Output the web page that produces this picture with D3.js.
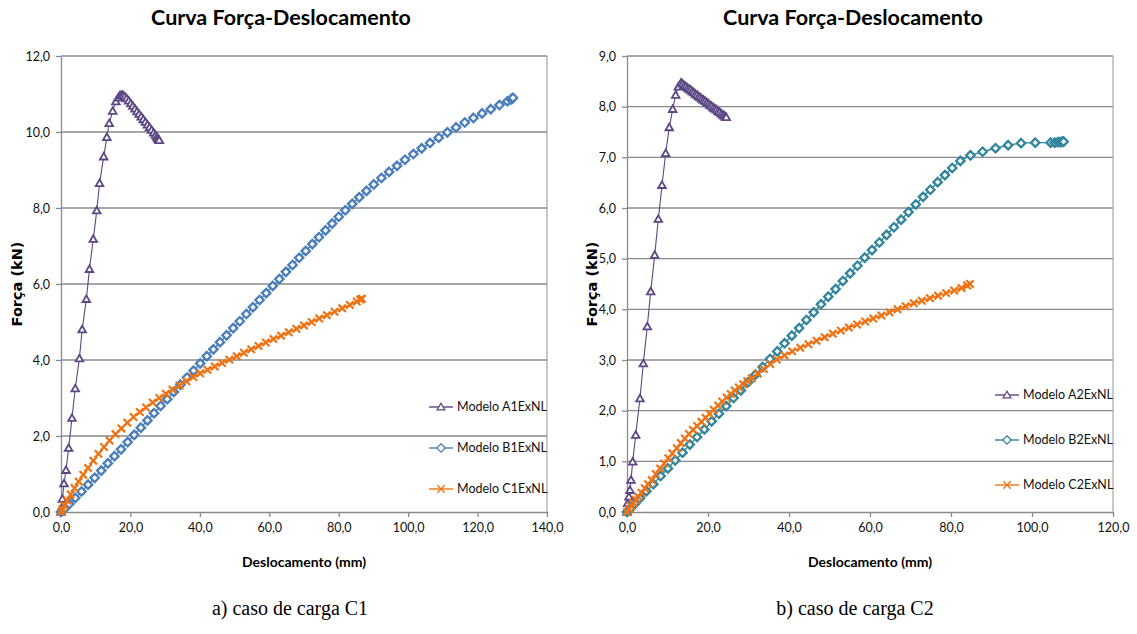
<!DOCTYPE html>
<html>
<head>
<meta charset="utf-8">
<script src="https://cdn.jsdelivr.net/npm/d3@7"></script>
<style>
  body { margin: 0; background: #fff; }
  svg { display: block; }
</style>
</head>
<body>
<svg id="fig" width="1137" height="634"></svg>
<script>
// ---------- data ----------
const chartTitle = "Curva Força-Deslocamento";
const xAxisTitle = "Deslocamento (mm)";
const yAxisTitle = "Força (kN)";
const captions = ["a) caso de carga C1", "b) caso de carga C2"];

// load case C1
const c1XTicks = [0, 20, 40, 60, 80, 100, 120, 140];
const c1YTicks = [0, 2, 4, 6, 8, 10, 12];
const c1Names = ["Modelo A1ExNL", "Modelo B1ExNL", "Modelo C1ExNL"];

const a1X = [0, 0.2, 0.4, 0.86, 1.44, 2.2, 3.17, 4.1, 5.3, 6.1, 7.3, 8.2, 9.3, 10.3, 11.1, 12.3, 13.2, 13.9, 14.9, 15.8, 16.5, 16.9, 17.3, 17.6,
  17.9, 18.4, 18.9, 19.5, 20.1, 20.7, 21.3, 21.9, 22.5, 23.1, 23.7, 24.3, 24.9, 25.5, 26.1, 26.7, 27.2, 27.6, 27.9, 28.1, 28.3];
const a1Y = [0, 0.1, 0.34, 0.75, 1.1, 1.68, 2.47, 3.25, 4.04, 4.8, 5.6, 6.39, 7.18, 7.93, 8.65, 9.35, 9.86, 10.23, 10.55, 10.8, 10.9, 10.95, 10.97, 10.97,
  10.96, 10.93, 10.88, 10.82, 10.75, 10.68, 10.61, 10.54, 10.47, 10.40, 10.33, 10.26, 10.19, 10.12, 10.05, 9.98, 9.92, 9.87, 9.83, 9.80, 9.78];

const b1X = [0, 0.5, 1.2, 2.4, 4.1, 5.9, 7.8, 9.7, 11.6, 13.5, 15.4, 17.3, 19.2, 21.1, 23.0, 24.9, 26.8, 28.7, 30.6, 32.5, 34.4, 36.3, 38.2, 40.1,
  42.0, 43.9, 45.8, 47.7, 49.6, 51.5, 53.4, 55.3, 57.2, 59.1, 61.0, 62.9, 64.8, 66.7, 68.6, 70.5, 72.4, 74.3, 76.2, 78.1, 80.0, 81.9, 83.9,
  85.9, 88.0, 90.1, 92.3, 94.5, 96.8, 99.1, 101.5, 103.9, 106.3, 108.8, 111.3, 113.8, 116.3, 118.8, 121.3, 123.8, 126.3, 128.6, 129.6, 130.0, 130.2];
const b1Y = [0, 0.04, 0.10, 0.21, 0.37, 0.54, 0.72, 0.90, 1.09, 1.28, 1.47, 1.65, 1.84, 2.03, 2.22, 2.41, 2.60, 2.79, 2.97, 3.16, 3.35, 3.54, 3.72, 3.91,
  4.10, 4.28, 4.47, 4.65, 4.84, 5.02, 5.21, 5.39, 5.58, 5.76, 5.95, 6.13, 6.32, 6.50, 6.69, 6.87, 7.05, 7.23, 7.41, 7.59, 7.77, 7.94, 8.11,
  8.28, 8.45, 8.62, 8.79, 8.95, 9.11, 9.27, 9.42, 9.57, 9.71, 9.85, 9.99, 10.12, 10.25, 10.37, 10.49, 10.60, 10.71, 10.81, 10.86, 10.88, 10.90];

const c1X = [0, 0.4, 1.0, 1.8, 2.8, 3.9, 5.1, 6.4, 7.8, 9.3, 10.8, 12.4, 14.0, 15.7, 17.4, 19.1, 20.9, 22.7, 24.5, 26.4, 28.3, 30.2, 32.1, 34.1,
  36.1, 38.1, 40.1, 42.2, 44.3, 46.4, 48.5, 50.6, 52.7, 54.8, 56.9, 59.0, 61.2, 63.4, 65.6, 67.8, 70.0, 72.2, 74.4, 76.6, 78.8, 81.0, 83.2,
  85.2, 86.2, 86.7];
const c1Y = [0, 0.07, 0.17, 0.30, 0.46, 0.63, 0.80, 0.98, 1.16, 1.35, 1.53, 1.71, 1.88, 2.05, 2.20, 2.35, 2.50, 2.63, 2.75, 2.88, 3.00, 3.11, 3.22, 3.33,
  3.44, 3.55, 3.65, 3.74, 3.83, 3.92, 4.01, 4.10, 4.19, 4.28, 4.37, 4.46, 4.55, 4.64, 4.73, 4.82, 4.91, 5.00, 5.09, 5.18, 5.27, 5.36, 5.45,
  5.54, 5.59, 5.61];

// load case C2
const c2XTicks = [0, 20, 40, 60, 80, 100, 120];
const c2YTicks = [0, 1, 2, 3, 4, 5, 6, 7, 8, 9];
const c2Names = ["Modelo A2ExNL", "Modelo B2ExNL", "Modelo C2ExNL"];

const a2X = [0, 0.17, 0.49, 0.74, 0.99, 1.4, 2.14, 3.2, 4.03, 5.0, 5.85, 6.84, 7.73, 8.64, 9.55, 10.44, 11.28, 12.02, 12.67, 13.33,
  13.7, 14.1, 14.5, 14.9, 15.3, 15.7, 16.1, 16.5, 16.9, 17.3, 17.7, 18.1, 18.5, 18.9, 19.3, 19.7, 20.1, 20.5, 20.9, 21.3, 21.7, 22.1,
  22.5, 22.9, 23.3, 23.7, 24.0, 24.3, 24.5];
const a2Y = [0, 0.17, 0.30, 0.43, 0.63, 0.99, 1.52, 2.24, 2.93, 3.66, 4.35, 5.07, 5.78, 6.45, 7.08, 7.59, 7.95, 8.23, 8.39, 8.47,
  8.45, 8.42, 8.40, 8.37, 8.35, 8.33, 8.30, 8.28, 8.25, 8.23, 8.20, 8.18, 8.15, 8.13, 8.11, 8.08, 8.06, 8.03, 8.01, 7.98, 7.96, 7.94,
  7.91, 7.89, 7.86, 7.84, 7.82, 7.80, 7.79];

const b2X = [0, 0.4, 1.0, 1.9, 3.2, 4.8, 6.5, 8.3, 10.1, 11.9, 13.7, 15.5, 17.3, 19.1, 20.9, 22.7, 24.5, 26.3, 28.1, 29.9, 31.7, 33.5, 35.3,
  37.1, 38.9, 40.7, 42.5, 44.3, 46.1, 47.9, 49.7, 51.5, 53.3, 55.1, 56.9, 58.7, 60.5, 62.3, 64.1, 65.9, 67.7, 69.5, 71.3, 73.1, 74.9,
  76.7, 78.5, 80.3, 82.3, 84.8, 87.8, 91.0, 94.1, 97.3, 100.8, 104.6, 105.6, 106.4, 107.0, 107.5, 107.8];
const b2Y = [0, 0.03, 0.08, 0.16, 0.27, 0.41, 0.55, 0.71, 0.86, 1.02, 1.17, 1.33, 1.48, 1.63, 1.79, 1.94, 2.09, 2.25, 2.40, 2.56, 2.71, 2.86, 3.02,
  3.17, 3.33, 3.48, 3.63, 3.79, 3.94, 4.10, 4.25, 4.40, 4.56, 4.71, 4.86, 5.02, 5.17, 5.32, 5.47, 5.62, 5.77, 5.92, 6.07, 6.22, 6.36,
  6.51, 6.65, 6.79, 6.93, 7.04, 7.11, 7.18, 7.24, 7.28, 7.29, 7.29, 7.29, 7.30, 7.30, 7.31, 7.31];

const c2X = [0, 0.5, 1.0, 1.56, 2.2, 2.8, 3.6, 4.4, 5.2, 6.1, 7.1, 8.15, 9.2, 10.2, 11.2, 12.3, 13.3, 14.3, 15.3, 16.3, 17.3, 18.4, 19.4,
  20.4, 21.4, 22.5, 23.5, 24.6, 25.6, 26.6, 27.6, 28.7, 29.7, 30.8, 32.3, 33.8, 35.4, 37.0, 38.9, 40.8, 42.8, 44.8, 46.8, 48.8, 50.8,
  52.8, 54.8, 56.8, 58.8, 60.8, 62.8, 64.8, 66.8, 68.8, 70.8, 72.8, 74.8, 76.8, 78.8, 80.8, 82.6, 84.0, 84.7];
const c2Y = [0, 0.06, 0.12, 0.18, 0.24, 0.30, 0.38, 0.47, 0.55, 0.63, 0.75, 0.86, 0.96, 1.06, 1.16, 1.26, 1.36, 1.45, 1.54, 1.62, 1.70, 1.78, 1.86,
  1.94, 2.02, 2.10, 2.18, 2.26, 2.33, 2.40, 2.46, 2.52, 2.58, 2.64, 2.73, 2.82, 2.92, 3.01, 3.09, 3.17, 3.24, 3.31, 3.38, 3.45, 3.52,
  3.58, 3.64, 3.70, 3.76, 3.82, 3.88, 3.94, 4.00, 4.06, 4.12, 4.17, 4.22, 4.27, 4.32, 4.37, 4.42, 4.47, 4.50];

// ---------- drawing ----------
const svg = d3.select("#fig");
const ptBR = d3.formatLocale({ decimal: ",", thousands: ".", grouping: [3], currency: ["R$", ""] });
const fmt = ptBR.format(".1f");

const GRID = "#8a8a8a";
const styles = [
  { color: "#5c4785", shape: "triangle", lineWidth: 1.1, markWidth: 1.8 },
  { color: null,      shape: "diamond",  lineWidth: 1.4, markWidth: 2.3 },
  { color: "#ee7315", shape: "cross",    lineWidth: 1.5, markWidth: 2.2 }
];

function markerPath(shape) {
  if (shape === "triangle") return "M0,-3.8L3.8,2.8L-3.8,2.8Z";
  if (shape === "diamond") return "M0,-4.2L4.2,0L0,4.2L-4.2,0Z";
  return "M-3.7,-3.7L3.7,3.7M-3.7,3.7L3.7,-3.7";
}

function drawPanel(p) {
  const g = svg.append("g");
  const x = d3.scaleLinear().domain([0, d3.max(p.xTicks)]).range([p.left, p.right]);
  const y = d3.scaleLinear().domain([0, d3.max(p.yTicks)]).range([p.bottom, p.top]);

  // horizontal gridlines
  g.append("g").selectAll("line")
    .data(p.yTicks.filter(v => v > 0))
    .join("line")
    .attr("x1", p.left).attr("x2", p.right)
    .attr("y1", d => y(d)).attr("y2", d => y(d))
    .attr("stroke", GRID).attr("stroke-width", 1.3);

  // right border of plot area
  g.append("line")
    .attr("x1", p.right).attr("x2", p.right)
    .attr("y1", p.top).attr("y2", p.bottom)
    .attr("stroke", "#a6a6a6").attr("stroke-width", 1.2);

  // axes
  const xAxis = g.append("g").attr("transform", `translate(0,${p.bottom})`)
    .call(d3.axisBottom(x).tickValues(p.xTicks).tickFormat(fmt).tickSizeInner(5).tickSizeOuter(0).tickPadding(6));
  const yAxis = g.append("g").attr("transform", `translate(${p.left},0)`)
    .call(d3.axisLeft(y).tickValues(p.yTicks).tickFormat(fmt).tickSizeInner(5).tickSizeOuter(0).tickPadding(6));
  [xAxis, yAxis].forEach(a => {
    a.select(".domain").attr("stroke", GRID).attr("stroke-width", 1.3);
    a.selectAll(".tick line").attr("stroke", GRID).attr("stroke-width", 1.3);
    a.selectAll(".tick text").attr("fill", "#111").style("font-family", "Lato, 'Open Sans', sans-serif").style("font-size", "12.5px");
  });

  // series (A, B, C)
  p.series.forEach((s, i) => {
    const st = styles[i];
    const color = s.color || st.color;
    const pts = s.xs.map((v, k) => [v, s.ys[k]]);
    const line = d3.line().x(d => x(d[0])).y(d => y(d[1]));
    const sg = g.append("g");
    sg.append("path").attr("d", line(pts))
      .attr("fill", "none").attr("stroke", color).attr("stroke-width", st.lineWidth);
    sg.selectAll("path.mk").data(pts).join("path").attr("class", "mk")
      .attr("transform", d => `translate(${x(d[0])},${y(d[1])})`)
      .attr("d", markerPath(st.shape))
      .attr("fill", st.shape === "cross" ? "none" : "#fff")
      .attr("stroke", color).attr("stroke-width", st.markWidth);

    // legend entry
    const ly = p.legendY[i];
    const lg = g.append("g");
    lg.append("line").attr("x1", p.legendX).attr("x2", p.legendX + 24)
      .attr("y1", ly).attr("y2", ly).attr("stroke", color).attr("stroke-width", 1.4);
    lg.append("path").attr("transform", `translate(${p.legendX + 12},${ly})`)
      .attr("d", markerPath(st.shape))
      .attr("fill", st.shape === "cross" ? "none" : "#fff")
      .attr("stroke", color).attr("stroke-width", 1.3);
    lg.append("text").attr("x", p.legendX + 28).attr("y", ly).attr("dy", "0.35em")
      .style("font-family", "Lato, 'Open Sans', sans-serif").style("font-size", "12.5px")
      .attr("fill", "#111").text(p.names[i]);
  });

  // titles
  g.append("text").attr("x", p.titleX).attr("y", 25).attr("text-anchor", "middle")
    .style("font-family", "Lato, sans-serif").style("font-weight", "bold").style("font-size", "21.5px")
    .attr("fill", "#000").text(chartTitle);
  g.append("text").attr("x", (p.left + p.right) / 2).attr("y", 567).attr("text-anchor", "middle")
    .style("font-family", "Lato, sans-serif").style("font-weight", "bold").style("font-size", "14px")
    .attr("fill", "#000").text(xAxisTitle);
  g.append("text").attr("transform", `translate(${p.yTitleX},${(p.top + p.bottom) / 2}) rotate(-90)`)
    .attr("text-anchor", "middle").attr("dy", "0.35em")
    .style("font-family", "'DejaVu Sans', sans-serif").style("font-weight", "bold").style("font-size", "14.5px")
    .attr("fill", "#000").text(yAxisTitle);
  g.append("text").attr("x", p.captionX).attr("y", 615).attr("text-anchor", "middle")
    .style("font-family", "'Liberation Serif', 'Times New Roman', serif").style("font-size", "20px")
    .attr("fill", "#000").text(p.caption);
}

drawPanel({
  left: 61, right: 547, top: 56, bottom: 512,
  xTicks: c1XTicks, yTicks: c1YTicks, names: c1Names,
  series: [
    { xs: a1X, ys: a1Y },
    { xs: b1X, ys: b1Y, color: "#4a7ebb" },
    { xs: c1X, ys: c1Y }
  ],
  legendX: 429, legendY: [407, 448, 489],
  titleX: 281, yTitleX: 17, captionX: 290, caption: captions[0]
});

drawPanel({
  left: 627, right: 1113, top: 56, bottom: 512,
  xTicks: c2XTicks, yTicks: c2YTicks, names: c2Names,
  series: [
    { xs: a2X, ys: a2Y },
    { xs: b2X, ys: b2Y, color: "#31859c" },
    { xs: c2X, ys: c2Y }
  ],
  legendX: 995, legendY: [395, 440, 485],
  titleX: 853, yTitleX: 592, captionX: 855, caption: captions[1]
});
</script>
</body>
</html>
